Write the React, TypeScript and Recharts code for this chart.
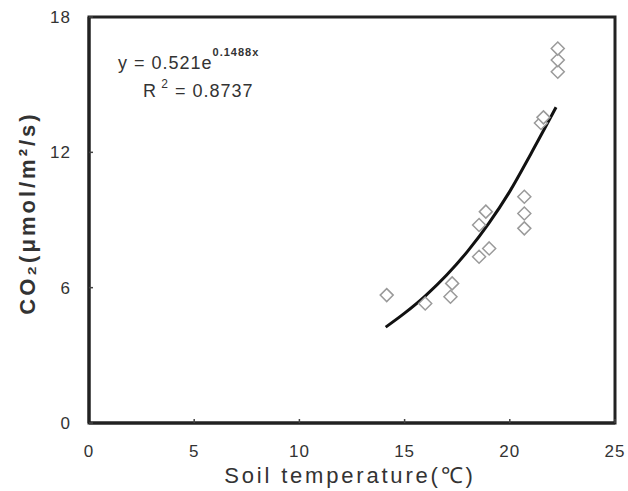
import React from 'react'
import { ComposedChart, Scatter, Line, XAxis, YAxis, ReferenceArea } from 'recharts'

// soil temperature (°C) vs CO2 efflux
const soilTemp = [14.15, 15.98, 17.18, 17.26, 18.54, 19.02, 18.54, 18.86, 20.69, 20.69, 20.69, 21.48, 21.6, 22.28, 22.28, 22.28]
const co2Flux = [5.67, 5.3, 5.6, 6.19, 7.37, 7.74, 8.78, 9.37, 8.63, 9.29, 10.03, 13.3, 13.55, 15.57, 16.09, 16.6]

// fitted exponential trend line
const trendTemp = [14.1, 15, 16, 17, 18, 19, 20, 21, 22.2]
const trendFlux = [4.25, 4.87, 5.65, 6.56, 7.62, 8.85, 10.27, 11.93, 14.0]

const xTicks = [0, 5, 10, 15, 20, 25]
const yTicks = [0, 6, 12, 18]

const points = soilTemp.map((t, i) => ({ x: t, y: co2Flux[i] }))
const trend = trendTemp.map((t, i) => ({ x: t, y: trendFlux[i] }))

const font = 'Liberation Sans, Arial, sans-serif'
const tickStyle = { fontFamily: font, fontSize: 17, fill: '#333', letterSpacing: 1 }

const Diamond = (props: any) => {
    const { cx, cy } = props
    const r = 6.5
    return (
        <path
            d={`M${cx},${cy - r}L${cx + r},${cy}L${cx},${cy + r}L${cx - r},${cy}Z`}
            fill="#fff"
            stroke="#9a9a9a"
            strokeWidth={1.5}
        />
    )
}

export default function App() {
    return (
        <div style={{ position: 'absolute', left: 0, top: 0, background: '#fff' }}>
            <ComposedChart
                width={628}
                height={491}
                margin={{ top: 17, right: 13, bottom: 0, left: 0 }}
            >
                <XAxis
                    type="number"
                    dataKey="x"
                    domain={[0, 25]}
                    ticks={xTicks}
                    height={68}
                    axisLine={{ stroke: '#222', strokeWidth: 3 }}
                    tickLine={{ stroke: '#444', strokeWidth: 1.5 }}
                    tickSize={-4}
                    tickMargin={26}
                    tick={tickStyle}
                    allowDataOverflow
                />
                <YAxis
                    type="number"
                    dataKey="y"
                    domain={[0, 18]}
                    ticks={yTicks}
                    width={89}
                    axisLine={{ stroke: '#222', strokeWidth: 3 }}
                    tickLine={{ stroke: '#444', strokeWidth: 1.5 }}
                    tickSize={-4}
                    tickMargin={22}
                    tick={tickStyle}
                    allowDataOverflow
                />
                <ReferenceArea x1={0} x2={25} y1={0} y2={18} fill="none" stroke="#222" strokeWidth={3} />
                <Scatter data={points} dataKey="y" shape={Diamond} isAnimationActive={false} />
                <Line
                    data={trend}
                    dataKey="y"
                    type="monotone"
                    stroke="#111"
                    strokeWidth={3}
                    dot={false}
                    activeDot={false}
                    isAnimationActive={false}
                />
                <text x={118} y={69} fontFamily={font} fontSize={18} fill="#333" letterSpacing={1}>
                    <tspan>y = 0.521e</tspan>
                    <tspan dy={-13} fontSize={11} fontWeight="bold">0.1488x</tspan>
                </text>
                <text x={143} y={97} fontFamily={font} fontSize={18} fill="#333" letterSpacing={1}>
                    <tspan>R</tspan>
                    <tspan dy={-9} fontSize={12}> 2</tspan>
                    <tspan dy={9}> = 0.8737</tspan>
                </text>
                <text
                    transform="translate(35,213) rotate(-90)"
                    textAnchor="middle"
                    fontFamily={font}
                    fontSize={22}
                    fontWeight="bold"
                    fill="#333"
                    letterSpacing={3}
                >
                    CO₂(μmol/m²/s)
                </text>
                <text
                    x={350}
                    y={483}
                    textAnchor="middle"
                    fontFamily={font}
                    fontSize={22}
                    fill="#333"
                    letterSpacing={2.8}
                >
                    Soil temperature(℃)
                </text>
            </ComposedChart>
        </div>
    )
}
